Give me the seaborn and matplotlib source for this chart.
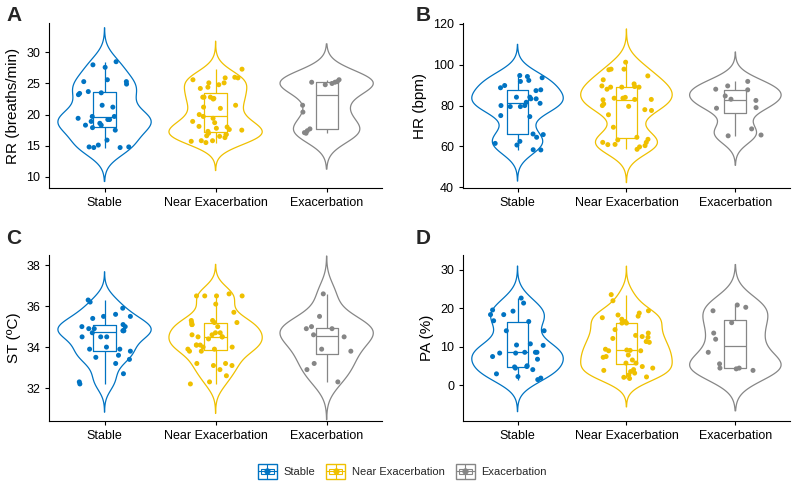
import numpy as np
import pandas as pd
import seaborn as sns
import matplotlib.pyplot as plt
from matplotlib.legend_handler import HandlerBase
from matplotlib.patches import Rectangle
from matplotlib.lines import Line2D

groups = ["Stable", "Near Exacerbation", "Exacerbation"]
colors = ["#0073C2", "#EFC000", "#868686"]

# RR (breaths/min)
rr_stable = [25.6, 28.5, 28.0, 27.6, 25.3, 24.9, 25.3, 23.7, 23.4, 23.5, 23.2, 21.5, 21.2, 19.7, 19.7,
             19.2, 19.4, 19.2, 18.9, 18.6, 17.9, 17.5, 18.3, 18.3, 15.9, 14.7, 14.7, 14.8, 15.1, 14.8]
rr_near = [27.3, 25.9, 25.9, 26.0, 25.1, 25.6, 25.1, 24.8, 24.4, 24.2, 22.8, 22.6, 22.8, 22.8, 22.5,
           21.5, 21.0, 21.2, 19.7, 19.4, 20.0, 18.1, 17.8, 18.9, 18.7, 17.3, 18.0, 17.6, 16.8, 16.8,
           17.0, 16.3, 16.6, 16.5, 15.5, 15.8, 15.7, 15.8, 17.5]
rr_exac = [25.2, 25.3, 25.2, 25.6, 24.8, 25.0, 21.5, 20.4, 17.7, 17.4, 17.1, 17.0]

# HR (bpm)
hr_stable = [91.8, 88.7, 93.6, 94.2, 94.7, 92.3, 89.8, 87.7, 87.3, 84.1, 84.1, 83.3, 83.3, 81.6, 81.1,
             80.0, 79.5, 79.5, 80.0, 75.1, 74.6, 66.1, 65.8, 64.5, 62.5, 61.5, 60.7, 58.3, 58.4]
hr_near = [101.2, 97.8, 97.8, 97.5, 92.6, 94.5, 90.6, 88.0, 89.0, 89.6, 89.0, 89.0, 89.3, 84.0, 83.6,
           83.0, 83.0, 83.6, 82.8, 80.0, 80.8, 77.6, 79.6, 78.0, 75.5, 69.4, 64.5, 63.5, 63.2, 62.0,
           62.0, 61.0, 59.8, 60.9, 58.6, 60.4]
hr_exac = [91.8, 89.6, 87.7, 88.0, 84.7, 83.1, 82.5, 78.7, 79.0, 68.6, 65.6, 65.2]

# ST (oC)
st_stable = [36.3, 36.2, 35.9, 35.5, 35.6, 35.5, 35.4, 35.1, 35.0, 35.0, 34.9, 34.8, 34.8, 34.9, 34.7,
             34.5, 34.5, 34.5, 34.8, 34.0, 33.9, 33.9, 33.8, 33.6, 33.5, 33.4, 33.2, 32.7, 32.3, 32.2]
st_near = [36.6, 36.5, 36.5, 36.5, 36.5, 36.1, 35.7, 35.1, 35.2, 35.3, 35.2, 35.3, 35.2, 35.1, 35.0,
           34.6, 34.5, 34.6, 34.7, 34.7, 34.5, 34.4, 34.5, 34.1, 34.0, 34.0, 34.1, 34.1, 33.8, 33.9,
           33.9, 33.8, 33.1, 33.2, 33.2, 33.1, 32.9, 32.6, 32.3, 32.2]
st_exac = [36.6, 35.5, 34.9, 34.9, 35.0, 34.5, 34.6, 33.9, 33.8, 33.2, 32.9, 32.3]

# PA (%)
pa_stable = [22.7, 21.4, 19.6, 19.3, 18.4, 18.4, 16.6, 16.8, 14.2, 14.2, 10.4, 10.5, 10.8, 8.6, 8.4,
             8.6, 8.4, 8.6, 7.5, 6.8, 5.1, 4.8, 4.9, 4.5, 4.1, 3.0, 2.3, 1.5, 1.9]
pa_near = [23.6, 22.0, 19.4, 18.3, 17.6, 18.0, 17.2, 18.8, 16.6, 16.2, 16.2, 14.5, 13.6, 13.0, 12.7,
           12.5, 12.2, 11.2, 11.4, 9.2, 9.1, 9.4, 9.0, 9.0, 7.9, 7.5, 7.3, 6.6, 5.8, 5.8,
           4.9, 4.5, 3.9, 4.1, 3.6, 3.2, 2.7, 1.8, 2.2, 2.1]
pa_exac = [20.9, 20.3, 19.4, 16.3, 13.6, 12.0, 8.6, 5.6, 4.5, 4.3, 4.5, 3.9]

panels = [
    ("A", "RR (breaths/min)", [rr_stable, rr_near, rr_exac], (8.2, 34.7), [10, 15, 20, 25, 30]),
    ("B", "HR (bpm)", [hr_stable, hr_near, hr_exac], (39.7, 120.3), [40, 60, 80, 100, 120]),
    ("C", "ST (ºC)", [st_stable, st_near, st_exac], (30.4, 38.5), [32, 34, 36, 38]),
    ("D", "PA (%)", [pa_stable, pa_near, pa_exac], (-9.2, 33.9), [0, 10, 20, 30]),
]

sns.set_style("ticks")
plt.rcParams["font.family"] = ["Liberation Sans", "DejaVu Sans"]

fig = plt.figure(figsize=(7.97, 4.82), dpi=100)
boxes = [
    [0.0615, 0.610, 0.418, 0.342],
    [0.581, 0.610, 0.410, 0.342],
    [0.0615, 0.127, 0.418, 0.344],
    [0.581, 0.127, 0.410, 0.344],
]
letter_pos = [(0.008, 0.968), (0.522, 0.968), (0.008, 0.505), (0.522, 0.505)]
pal = dict(zip(groups, colors))

np.random.seed(3)
for (letter, ylabel, vals, ylim, yticks), rect, lp in zip(panels, boxes, letter_pos):
    df = pd.DataFrame({
        "group": np.repeat(groups, [len(v) for v in vals]),
        "value": np.concatenate(vals),
    })
    ax = fig.add_axes(rect)
    sns.violinplot(data=df, x="group", y="value", hue="group", order=groups, hue_order=groups,
                   palette=pal, fill=False, inner=None, density_norm="width", width=0.84,
                   cut=3, bw_adjust=0.85, linewidth=0.9, legend=False, ax=ax)
    sns.boxplot(data=df, x="group", y="value", hue="group", order=groups, hue_order=groups,
                palette=pal, fill=False, width=0.2, showfliers=False, showcaps=False,
                linewidth=0.9, legend=False, ax=ax)
    sns.stripplot(data=df, x="group", y="value", hue="group", order=groups, hue_order=groups,
                  palette=pal, jitter=0.25, size=3.6, linewidth=0, legend=False, ax=ax)
    ax.set_ylim(*ylim)
    ax.set_yticks(yticks)
    ax.set_xlabel("")
    ax.set_ylabel(ylabel, fontsize=11, color="black")
    ax.tick_params(axis="both", labelsize=9, colors="black", length=3, width=0.8)
    for s in ["left", "bottom"]:
        ax.spines[s].set_linewidth(0.8)
        ax.spines[s].set_color("black")
    sns.despine(ax=ax)
    fig.text(lp[0], lp[1], letter, fontsize=15, fontweight="bold", va="center", ha="left")


class BoxKey(HandlerBase):
    def create_artists(self, legend, orig_handle, xdescent, ydescent, width, height, fontsize, trans):
        c = orig_handle.get_color()
        x0, y0 = -xdescent, -ydescent
        arts = [
            Rectangle((x0, y0), width, height, fill=False, edgecolor=c, lw=1.0, transform=trans),
            Rectangle((x0 + 0.15 * width, y0 + 0.3 * height), 0.7 * width, 0.4 * height,
                      fill=False, edgecolor=c, lw=0.8, transform=trans),
            Line2D([x0, x0 + width], [y0 + 0.5 * height] * 2, color=c, lw=0.8, transform=trans),
            Line2D([x0 + width / 2] * 2, [y0, y0 + 0.3 * height], color=c, lw=0.8, transform=trans),
            Line2D([x0 + width / 2] * 2, [y0 + 0.7 * height, y0 + height], color=c, lw=0.8, transform=trans),
            Line2D([x0 + width / 2], [y0 + 0.5 * height], marker="o", markersize=3.5, color=c,
                   lw=0, transform=trans),
        ]
        return arts


handles = [Line2D([], [], color=c) for c in colors]
fig.legend(handles, groups, handler_map={Line2D: BoxKey()}, loc="center", bbox_to_anchor=(0.505, 0.022),
           ncol=3, frameon=False, fontsize=8, handlelength=1.7, handleheight=1.6, columnspacing=1.0,
           handletextpad=0.6)

fig.savefig("out.png", dpi=100)
